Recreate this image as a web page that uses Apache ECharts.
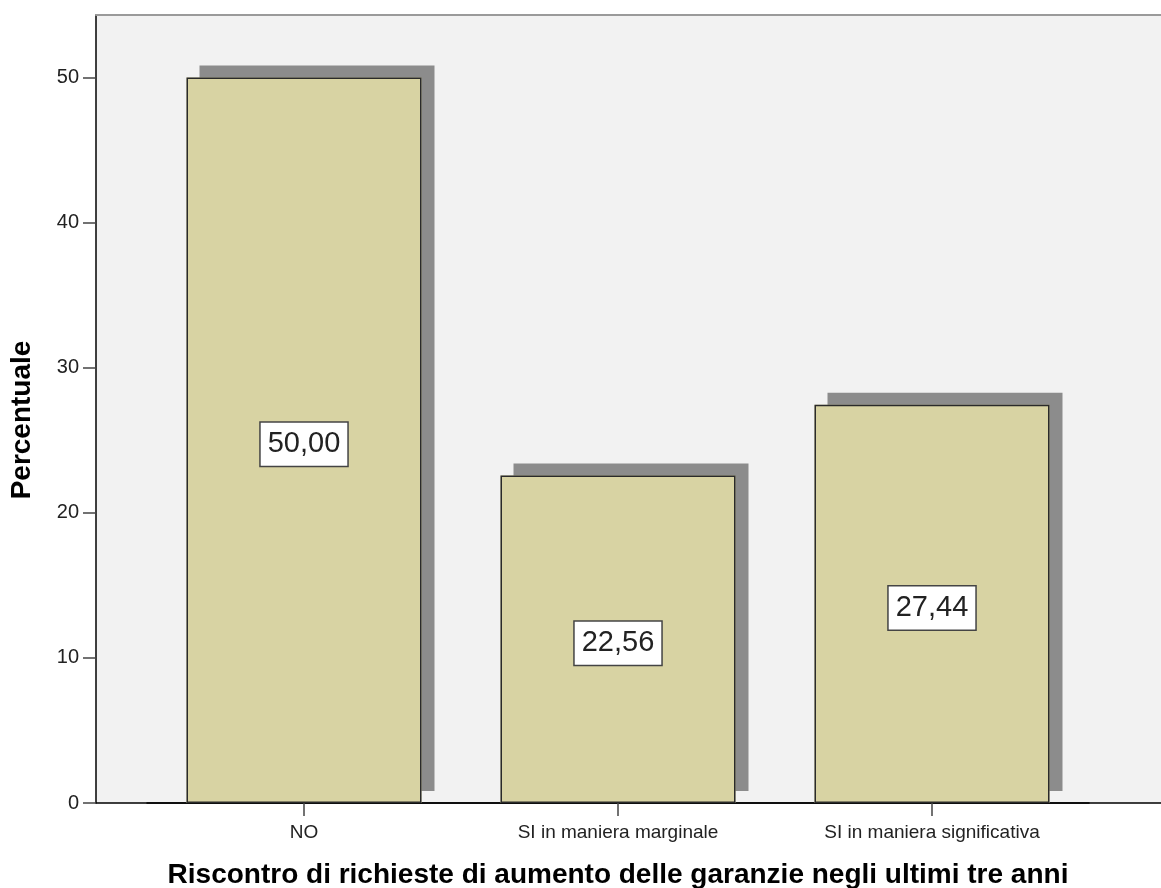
<!DOCTYPE html>
<html>
<head>
<meta charset="utf-8">
<script src="https://cdn.jsdelivr.net/npm/echarts@6/dist/echarts.min.js"></script>
<style>
  html, body { margin: 0; padding: 0; background: #fff; }
  #chart { width: 1161px; height: 888px; }
</style>
</head>
<body>
<div id="chart"></div>
<script>
// dati
const categories = ["NO", "SI in maniera marginale", "SI in maniera significativa"];
const percentuali = [50.00, 22.56, 27.44];
const yTicks = [0, 10, 20, 30, 40, 50];
const yMax = 54.3;

const font = "Liberation Sans, Arial, sans-serif";
const barColor = "#d8d3a3";

let chart = echarts.init(document.getElementById("chart"));
let option = {
  backgroundColor: "#ffffff",
  animation: false,
  grid: [
    // sfondo area grafico
    { left: 96, right: 0, top: 15, bottom: 85, show: true, backgroundColor: "#f2f2f2", borderWidth: 0, outerBoundsMode: "none", containLabel: false },
    // barre
    { left: 147, width: 942, top: 15, bottom: 85, outerBoundsMode: "none", containLabel: false }
  ],
  xAxis: [
    {
      gridIndex: 0, type: "value", min: 0, max: 1, position: "bottom",
      axisLine: { show: true, lineStyle: { color: "#000", width: 1.5 } },
      axisTick: { show: false }, axisLabel: { show: false }, splitLine: { show: false }
    },
    {
      gridIndex: 0, type: "value", min: 0, max: 1, position: "top",
      axisLine: { show: true, lineStyle: { color: "#9a9a9a", width: 2 } },
      axisTick: { show: false }, axisLabel: { show: false }, splitLine: { show: false }
    },
    {
      gridIndex: 1, type: "category", data: categories,
      axisLine: { show: true, lineStyle: { color: "#000", width: 1.5 } },
      axisTick: { show: true, alignWithLabel: true, length: 13, lineStyle: { color: "#444", width: 1.5 } },
      axisLabel: { color: "#222", fontSize: 19, fontFamily: font, margin: 20 },
      name: "Riscontro di richieste di aumento delle garanzie negli ultimi tre anni",
      nameLocation: "middle",
      nameGap: 58,
      nameTextStyle: { color: "#000", fontSize: 28, fontWeight: "bold", fontFamily: font }
    }
  ],
  yAxis: [
    {
      gridIndex: 0, type: "value", min: 0, max: yMax,
      axisLine: { show: true, lineStyle: { color: "#000", width: 1.5 } },
      axisTick: { show: true, length: 13, customValues: yTicks, lineStyle: { color: "#444", width: 1.5 } },
      axisLabel: { color: "#222", fontSize: 20, fontFamily: font, margin: 17, customValues: yTicks },
      splitLine: { show: false },
      name: "Percentuale",
      nameLocation: "middle",
      nameGap: 60,
      nameTextStyle: { color: "#000", fontSize: 28, fontWeight: "bold", fontFamily: font, padding: [0, 22, 0, 0] }
    },
    {
      gridIndex: 1, type: "value", min: 0, max: yMax, show: false
    }
  ],
  series: [
    {
      // ombra delle barre
      type: "bar",
      xAxisIndex: 2,
      yAxisIndex: 1,
      data: percentuali,
      barWidth: 235,
      silent: true,
      itemStyle: {
        color: barColor,
        shadowColor: "#8c8c8c",
        shadowBlur: 0,
        shadowOffsetX: 13,
        shadowOffsetY: -12
      }
    },
    {
      type: "bar",
      xAxisIndex: 2,
      yAxisIndex: 1,
      data: percentuali,
      barWidth: 235,
      barGap: "-100%",
      itemStyle: {
        color: barColor,
        borderColor: "#2a2a2a",
        borderWidth: 1.5
      },
      label: {
        show: true,
        position: "inside",
        formatter: p => p.value.toFixed(2).replace(".", ","),
        color: "#222",
        fontSize: 29,
        fontFamily: font,
        backgroundColor: "#ffffff",
        borderColor: "#444",
        borderWidth: 1.5,
        padding: [8, 7, 6, 7],
        offset: [0, 4]
      }
    }
  ]
};
chart.setOption(option);
</script>
</body>
</html>
